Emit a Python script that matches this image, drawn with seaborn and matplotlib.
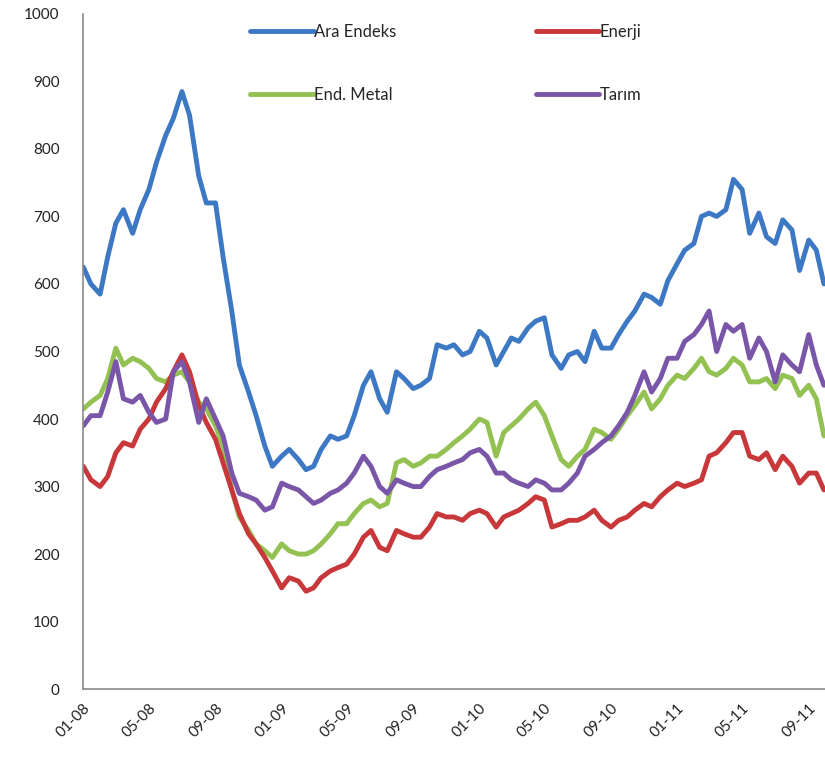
import pandas as pd
import matplotlib
matplotlib.use("Agg")
import matplotlib.pyplot as plt
import matplotlib.dates as mdates
import seaborn as sns

# half-monthly readings (1st and 15th) from Jan 2008 to Sep 2011, plus the last day
ara_endeks = [625, 600, 585, 640, 690, 710, 675, 710, 740, 780, 820, 845, 885, 850, 760, 720, 720, 640, 560, 480, 440, 405, 360, 330,
              345, 355, 340, 325, 330, 355, 375, 370, 375, 405, 450, 470, 430, 410, 470, 460, 445, 450, 460, 510, 505, 510, 495, 500,
              530, 520, 480, 500, 520, 515, 535, 545, 550, 495, 475, 495, 500, 485, 530, 505, 505, 525, 545, 560, 585, 580, 570, 605,
              630, 650, 660, 700, 705, 700, 710, 755, 740, 675, 705, 670, 660, 695, 680, 620, 665, 650, 600]
enerji = [330, 310, 300, 315, 350, 365, 360, 385, 400, 425, 445, 470, 495, 470, 420, 395, 370, 335, 295, 260, 230, 215, 195, 175,
          150, 165, 160, 145, 150, 165, 175, 180, 185, 200, 225, 235, 210, 205, 235, 230, 225, 225, 240, 260, 255, 255, 250, 260,
          265, 260, 240, 255, 260, 265, 275, 285, 280, 240, 245, 250, 250, 255, 265, 250, 240, 250, 255, 265, 275, 270, 285, 295,
          305, 300, 305, 310, 345, 350, 365, 380, 380, 345, 340, 350, 325, 345, 330, 305, 320, 320, 295]
end_metal = [415, 425, 435, 460, 505, 480, 490, 485, 475, 460, 455, 465, 470, 455, 425, 415, 390, 360, 295, 255, 235, 215, 205, 195,
             215, 205, 200, 200, 205, 215, 230, 245, 245, 260, 275, 280, 270, 275, 335, 340, 330, 335, 345, 345, 355, 365, 375, 385,
             400, 395, 345, 380, 390, 400, 415, 425, 405, 375, 340, 330, 345, 355, 385, 380, 370, 385, 405, 420, 440, 415, 430, 450,
             465, 460, 475, 490, 470, 465, 475, 490, 480, 455, 455, 460, 445, 465, 460, 435, 450, 430, 375]
tarim = [390, 405, 405, 440, 485, 430, 425, 435, 410, 395, 400, 470, 485, 455, 395, 430, 400, 375, 320, 290, 285, 280, 265, 270,
         305, 300, 295, 285, 275, 280, 290, 295, 305, 320, 345, 330, 300, 290, 310, 305, 300, 300, 315, 325, 330, 335, 340, 350,
         355, 345, 320, 320, 310, 305, 300, 310, 305, 295, 295, 305, 320, 345, 355, 365, 375, 390, 410, 435, 470, 440, 460, 490,
         490, 515, 525, 540, 560, 500, 540, 530, 540, 490, 520, 500, 455, 495, 480, 470, 525, 480, 450]

tarihler = list(pd.date_range("2008-01-01", "2011-09-30", freq="SMS")) + [pd.Timestamp("2011-09-29")]

seriler = {"Ara Endeks": ara_endeks, "End. Metal": end_metal, "Enerji": enerji, "Tarım": tarim}
renkler = {"Ara Endeks": "#3d78c4", "End. Metal": "#93c152", "Enerji": "#c8383a", "Tarım": "#7a56a8"}

df = pd.concat([pd.DataFrame({"tarih": tarihler, "deger": v, "seri": k}) for k, v in seriler.items()])

sns.set_style("white")
plt.rcParams["font.family"] = ["Lato", "DejaVu Sans"]

fig = plt.figure(figsize=(8.25, 7.7), dpi=100)
ax = fig.add_axes([0.101, 0.105, 0.899, 0.877])

sns.lineplot(data=df, x="tarih", y="deger", hue="seri", palette=renkler,
             hue_order=list(seriler.keys()), linewidth=3.5, ax=ax)

ax.set_ylim(0, 1000)
ax.set_yticks(range(0, 1001, 100))
ax.set_xlim(pd.Timestamp("2008-01-01"), pd.Timestamp("2011-10-01"))
ax.xaxis.set_major_locator(mdates.MonthLocator(bymonth=[1, 5, 9]))
ax.xaxis.set_major_formatter(mdates.DateFormatter("%m-%y"))
ax.set_xlabel("")
ax.set_ylabel("")

for s in ["top", "right"]:
    ax.spines[s].set_visible(False)
for s in ["left", "bottom"]:
    ax.spines[s].set_color("#8a8a8a")
    ax.spines[s].set_linewidth(1.2)

ax.tick_params(axis="both", which="major", direction="out", length=5, width=1,
               color="#8a8a8a", labelsize=11, labelcolor="#222222")
ax.tick_params(axis="y", pad=12)
plt.setp(ax.get_xticklabels(), rotation=45, ha="right", rotation_mode="anchor")

sns.move_legend(ax, loc="upper left", bbox_to_anchor=(0.205, 1.007), ncol=2,
                frameon=False, title=None, fontsize=12, handlelength=3.8,
                handletextpad=0.0, labelspacing=2.8, columnspacing=8.4)
for l in ax.get_legend().get_lines():
    l.set_linewidth(3.5)

fig.savefig("out.png", dpi=100)
